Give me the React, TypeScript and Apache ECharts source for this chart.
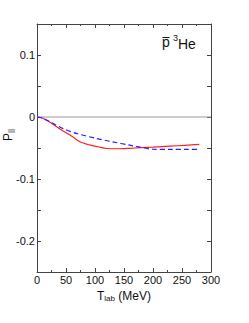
import React, { useEffect, useRef } from "react";
import * as echarts from "echarts";

const redT = [0, 10, 25, 45, 60, 74, 90, 105, 120, 140, 160, 180, 200, 230, 255, 280];
const redP = [0, -0.002, -0.01, -0.0225, -0.031, -0.040, -0.045, -0.048, -0.0508, -0.0512, -0.0505, -0.0495, -0.0486, -0.047, -0.0457, -0.0443];
const blueT = [0, 10, 25, 45, 70, 103, 130, 160, 180, 200, 230, 260, 281];
const blueP = [0, -0.002, -0.009, -0.0187, -0.027, -0.0347, -0.040, -0.0455, -0.049, -0.052, -0.0522, -0.0522, -0.052];

const xTicks = [0, 50, 100, 150, 200, 250, 300];
const yTicks = [-0.2, -0.1, 0, 0.1];

const FONT = "Liberation Sans";
const AX = "#444";

export default function App() {
  const ref = useRef<HTMLDivElement>(null);
  useEffect(() => {
    const chart = echarts.init(ref.current!, null, { renderer: "svg" });
    const baseX = {
      type: "value",
      min: 0,
      max: 300,
      interval: 50,
      axisLine: { show: true, onZero: false, lineStyle: { color: AX, width: 1 } },
      axisTick: { show: true, inside: true, length: 4, lineStyle: { color: AX } },
      minorTick: { show: true, splitNumber: 2, length: 2, lineStyle: { color: AX } },
      splitLine: { show: false },
    };
    const baseY = {
      type: "value",
      min: -0.25,
      max: 0.15,
      interval: 0.05,
      axisLine: { show: true, onZero: false, lineStyle: { color: AX, width: 1 } },
      axisTick: { show: true, inside: true, length: 4, lineStyle: { color: AX } },
      minorTick: { show: false },
      splitLine: { show: false },
    };
    const yLabel = (v: number) => {
      const r = Math.round(v * 100) / 100;
      const hit = yTicks.find((t) => Math.abs(t - r) < 1e-9);
      if (hit === undefined) return "";
      return hit === 0 ? "0" : String(hit);
    };
    const rich = {
      t: { fontFamily: FONT, fontSize: 12, fill: "#111", color: "#111", verticalAlign: "bottom" },
      s: { fontFamily: FONT, fontSize: 8, fill: "#111", color: "#111", padding: [6, 0, 0, 0], verticalAlign: "bottom" },
    };
    chart.setOption({
      animation: false,
      grid: { left: 37, top: 24, width: 174, height: 248, containLabel: false, outerBoundsMode: "none" },
      xAxis: [
        {
          ...baseX,
          position: "bottom",
          axisLabel: {
            show: true,
            color: "#111",
            fontFamily: FONT,
            fontSize: 11,
            margin: 2,
            formatter: (v: number) => (xTicks.includes(v) ? String(v) : ""),
          },
          name: "{t|T}{s|lab}{t| (MeV)}",
          nameLocation: "middle",
          nameGap: 16,
          nameTextStyle: { rich },
        },
        { ...baseX, position: "top", axisLabel: { show: false } },
      ],
      yAxis: [
        {
          ...baseY,
          position: "left",
          minorTick: { show: false },
          axisLabel: {
            show: true,
            color: "#111",
            fontFamily: FONT,
            fontSize: 11,
            margin: 2,
            formatter: yLabel,
          },
        },
        { ...baseY, position: "right", axisLabel: { show: false } },
      ],
      graphic: [
        {
          type: "text",
          x: 7,
          y: 135,
          rotation: Math.PI / 2,
          style: {
            text: "{t|P}{s|||}",
            rich,
            align: "center",
            verticalAlign: "middle",
          },
        },
        { type: "text", left: 162, top: 35, style: { text: "p", font: `14px ${FONT}`, fill: "#111" } },
        { type: "line", shape: { x1: 162.5, y1: 37.5, x2: 169.5, y2: 37.5 }, style: { stroke: "#111", lineWidth: 1 } },
        { type: "text", left: 173, top: 33, style: { text: "3", font: `9px ${FONT}`, fill: "#111" } },
        { type: "text", left: 178, top: 37, style: { text: "He", font: `14px ${FONT}`, fill: "#111" } },
      ],
      series: [
        {
          type: "line",
          xAxisIndex: 0,
          yAxisIndex: 0,
          data: [[0, 0], [300, 0]],
          showSymbol: false,
          silent: true,
          lineStyle: { color: "#999", width: 1 },
        },
        {
          type: "line",
          data: redT.map((t, i) => [t, redP[i]]),
          showSymbol: false,
          smooth: 0.3,
          lineStyle: { color: "#ff2020", width: 1.2 },
        },
        {
          type: "line",
          data: blueT.map((t, i) => [t, blueP[i]]),
          showSymbol: false,
          smooth: 0.3,
          lineStyle: { color: "#2020ff", width: 1.2, type: [5, 3] },
        },
      ],
    });
    return () => chart.dispose();
  }, []);
  return (
    <div
      ref={ref}
      style={{ position: "fixed", left: 0, top: 0, width: 249, height: 323, background: "#fff" }}
    />
  );
}
